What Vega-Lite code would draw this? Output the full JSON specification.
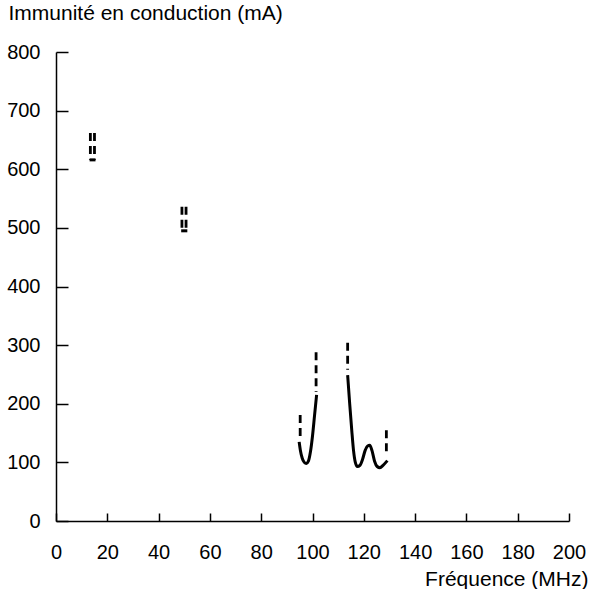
{
  "$schema": "https://vega.github.io/schema/vega-lite/v6.json",
  "width": 513,
  "height": 469,
  "autosize": {"type": "none"},
  "padding": {"left": 56, "top": 52, "right": 22, "bottom": 68},
  "background": "white",
  "config": {
    "view": {"stroke": null},
    "font": "Liberation Sans",
    "axis": {
      "domainColor": "black",
      "domainWidth": 1.5,
      "tickColor": "black",
      "tickWidth": 1.5,
      "labelColor": "black",
      "titleColor": "black",
      "grid": false,
      "labelFont": "Liberation Sans",
      "titleFont": "Liberation Sans",
      "titleFontWeight": "normal"
    }
  },
  "data": {
    "values": [
      {"s": "a1", "k": "dashed", "x": 13.4, "y": 662, "i": 0},
      {"s": "a1", "k": "dashed", "x": 13.4, "y": 616, "i": 1},
      {"s": "a2", "k": "dashed", "x": 15.0, "y": 662, "i": 0},
      {"s": "a2", "k": "dashed", "x": 15.0, "y": 616, "i": 1},
      {"s": "ab", "k": "solid", "x": 13.1, "y": 616, "i": 0},
      {"s": "ab", "k": "solid", "x": 15.4, "y": 616, "i": 1},
      {"s": "b1", "k": "dashed", "x": 49.1, "y": 536, "i": 0},
      {"s": "b1", "k": "dashed", "x": 49.1, "y": 495, "i": 1},
      {"s": "b2", "k": "dashed", "x": 50.7, "y": 536, "i": 0},
      {"s": "b2", "k": "dashed", "x": 50.7, "y": 495, "i": 1},
      {"s": "bb", "k": "solid", "x": 48.8, "y": 495, "i": 0},
      {"s": "bb", "k": "solid", "x": 51.2, "y": 495, "i": 1},
      {"s": "c1", "k": "dashed", "x": 95.2, "y": 181, "i": 0},
      {"s": "c1", "k": "dashed", "x": 95.2, "y": 142, "i": 1},
      {"s": "c2", "k": "solid", "x": 94.8, "y": 135, "i": 0},
      {"s": "c2", "k": "solid", "x": 95.3, "y": 120, "i": 1},
      {"s": "c2", "k": "solid", "x": 96.0, "y": 107, "i": 2},
      {"s": "c2", "k": "solid", "x": 96.8, "y": 100, "i": 3},
      {"s": "c2", "k": "solid", "x": 97.6, "y": 98, "i": 4},
      {"s": "c2", "k": "solid", "x": 98.4, "y": 102, "i": 5},
      {"s": "c2", "k": "solid", "x": 99.2, "y": 118, "i": 6},
      {"s": "c2", "k": "solid", "x": 100.0, "y": 145, "i": 7},
      {"s": "c2", "k": "solid", "x": 100.8, "y": 180, "i": 8},
      {"s": "c2", "k": "solid", "x": 101.6, "y": 215, "i": 9},
      {"s": "c3", "k": "dashed", "x": 101.4, "y": 288, "i": 0},
      {"s": "c3", "k": "dashed", "x": 101.4, "y": 220, "i": 1},
      {"s": "d1", "k": "dashed", "x": 113.7, "y": 304, "i": 0},
      {"s": "d1", "k": "dashed", "x": 113.7, "y": 258, "i": 1},
      {"s": "d2", "k": "solid", "x": 113.7, "y": 249, "i": 0},
      {"s": "d2", "k": "solid", "x": 114.5, "y": 200, "i": 1},
      {"s": "d2", "k": "solid", "x": 115.3, "y": 155, "i": 2},
      {"s": "d2", "k": "solid", "x": 116.0, "y": 120, "i": 3},
      {"s": "d2", "k": "solid", "x": 116.7, "y": 100, "i": 4},
      {"s": "d2", "k": "solid", "x": 117.5, "y": 93, "i": 5},
      {"s": "d2", "k": "solid", "x": 118.5, "y": 95, "i": 6},
      {"s": "d2", "k": "solid", "x": 119.5, "y": 105, "i": 7},
      {"s": "d2", "k": "solid", "x": 120.5, "y": 120, "i": 8},
      {"s": "d2", "k": "solid", "x": 121.5, "y": 128, "i": 9},
      {"s": "d2", "k": "solid", "x": 122.3, "y": 129, "i": 10},
      {"s": "d2", "k": "solid", "x": 123.2, "y": 120, "i": 11},
      {"s": "d2", "k": "solid", "x": 124.2, "y": 102, "i": 12},
      {"s": "d2", "k": "solid", "x": 125.2, "y": 93, "i": 13},
      {"s": "d2", "k": "solid", "x": 126.3, "y": 91, "i": 14},
      {"s": "d2", "k": "solid", "x": 127.5, "y": 95, "i": 15},
      {"s": "d2", "k": "solid", "x": 129.2, "y": 103, "i": 16},
      {"s": "d3", "k": "dashed", "x": 128.8, "y": 155, "i": 0},
      {"s": "d3", "k": "dashed", "x": 128.8, "y": 113, "i": 1}
    ]
  },
  "encoding": {
    "x": {
      "field": "x",
      "type": "quantitative",
      "scale": {"domain": [0, 200], "nice": false, "zero": false},
      "axis": {
        "values": [0, 20, 40, 60, 80, 100, 120, 140, 160, 180, 200],
        "title": "Fréquence (MHz)",
        "tickSize": -8,
        "labelFontSize": 20,
        "labelPadding": 29,
        "labelFlush": false,
        "titleFontSize": 21,
        "titleAnchor": "end",
        "titleAlign": "right",
        "titleBaseline": "alphabetic",
        "titleX": 532,
        "titleY": 64
      }
    },
    "y": {
      "field": "y",
      "type": "quantitative",
      "scale": {"domain": [0, 800], "nice": false},
      "axis": {
        "values": [0, 100, 200, 300, 400, 500, 600, 700, 800],
        "title": "Immunité en conduction (mA)",
        "tickSize": -12,
        "labelFontSize": 20,
        "labelPadding": 28,
        "labelFlush": false,
        "titleFontSize": 21,
        "titleAngle": 0,
        "titleAlign": "left",
        "titleBaseline": "alphabetic",
        "titleX": -48,
        "titleY": -33
      }
    },
    "detail": {"field": "s"},
    "order": {"field": "i", "type": "quantitative"}
  },
  "layer": [
    {
      "transform": [{"filter": "datum.k === 'solid'"}],
      "mark": {"type": "line", "color": "black", "strokeWidth": 3, "interpolate": "monotone"}
    },
    {
      "transform": [{"filter": "datum.k === 'dashed'"}],
      "mark": {"type": "line", "color": "black", "strokeWidth": 2.8, "strokeDash": [8, 5]}
    }
  ]
}
